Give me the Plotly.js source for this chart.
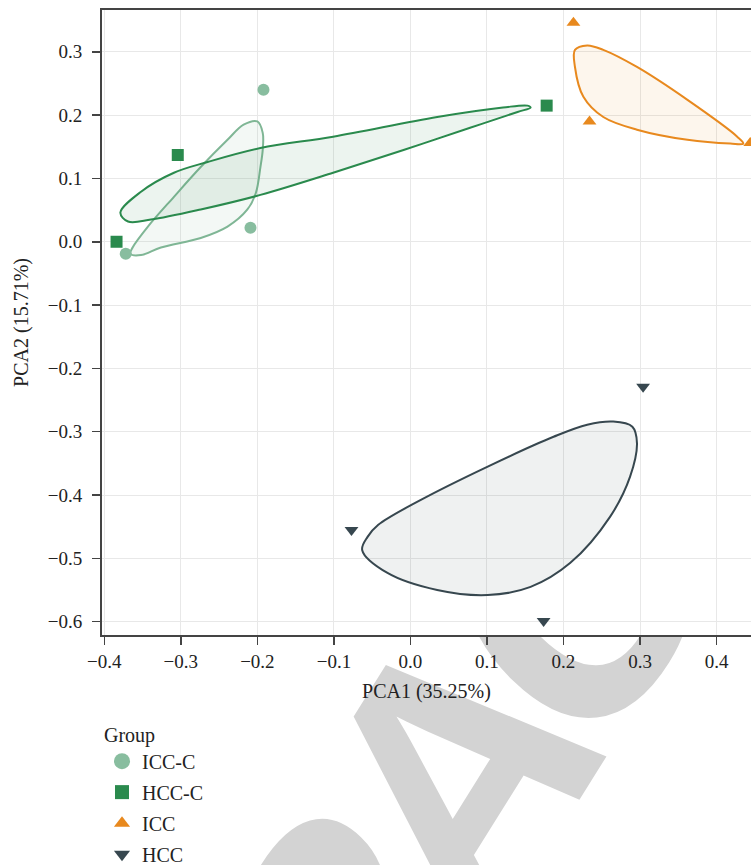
<!DOCTYPE html>
<html>
<head>
<meta charset="utf-8">
<script src="https://cdn.plot.ly/plotly-3.0.1.min.js"></script>
<style>
  html, body { margin: 0; padding: 0; background: #ffffff; }
  #wrap { position: relative; width: 751px; height: 865px; overflow: hidden; }
  #wm { position: absolute; left: 0; top: 0; z-index: 0; }
  #chart { position: absolute; left: 0; top: 0; width: 751px; height: 865px; z-index: 1; }
</style>
</head>
<body>
<div id="wrap">
  <svg id="wm" width="751" height="865" xmlns="http://www.w3.org/2000/svg">
    <text x="-17" y="0" text-anchor="middle" letter-spacing="-34" transform="translate(543 858) rotate(-46) skewY(-12)"
          font-family="Liberation Sans, Arial, sans-serif" font-weight="bold" font-size="350" fill="#d3d3d3">RETRACTED</text>
  </svg>
  <div id="chart"></div>
</div>
<script>
// ---- group labels ----
const groups = ["ICC-C", "HCC-C", "ICC", "HCC"];

// ---- sample scores (PCA1, PCA2) ----
const iccc_x = [-0.192, -0.209, -0.372];
const iccc_y = [0.240, 0.022, -0.019];
const hccc_x = [-0.384, -0.304, 0.178];
const hccc_y = [0.000, 0.137, 0.215];
const icc_x = [0.213, 0.234, 0.444];
const icc_y = [0.346, 0.190, 0.156];
const hcc_x = [0.304, -0.077, 0.174];
const hcc_y = [-0.229, -0.455, -0.599];

// ---- smoothed group outlines ----
const iccc_hull_x = [-0.200, -0.193, -0.193, -0.196, -0.202, -0.213, -0.239, -0.274, -0.326, -0.352, -0.366, -0.363, -0.343, -0.309, -0.274, -0.239, -0.218];
const iccc_hull_y = [0.190, 0.172, 0.145, 0.118, 0.077, 0.051, 0.024, 0.006, -0.009, -0.021, -0.019, -0.009, 0.024, 0.071, 0.118, 0.161, 0.185];
const hccc_hull_x = [-0.379, -0.352, -0.309, -0.265, -0.196, -0.101, 0.035, 0.121, 0.153, 0.157, 0.140, 0.078, -0.009, -0.101, -0.196, -0.274, -0.339, -0.369];
const hccc_hull_y = [0.046, 0.079, 0.109, 0.126, 0.148, 0.166, 0.197, 0.212, 0.215, 0.212, 0.205, 0.180, 0.145, 0.109, 0.074, 0.051, 0.035, 0.032];
const icc_hull_x = [0.215, 0.231, 0.252, 0.296, 0.362, 0.427, 0.435, 0.418, 0.362, 0.296, 0.252, 0.226, 0.215];
const icc_hull_y = [0.303, 0.310, 0.303, 0.276, 0.224, 0.166, 0.155, 0.155, 0.161, 0.177, 0.197, 0.229, 0.276];
const hcc_hull_x = [0.265, 0.290, 0.296, 0.287, 0.261, 0.209, 0.157, 0.101, 0.035, -0.030, -0.063, -0.056, -0.042, 0.013, 0.101, 0.187, 0.231];
const hcc_hull_y = [-0.284, -0.292, -0.318, -0.371, -0.434, -0.507, -0.545, -0.558, -0.550, -0.523, -0.487, -0.466, -0.447, -0.408, -0.355, -0.308, -0.289];

// ---- x/y tick values ----
const xTicks = [-0.4, -0.3, -0.2, -0.1, 0.0, 0.1, 0.2, 0.3, 0.4];
const yTicks = [-0.6, -0.5, -0.4, -0.3, -0.2, -0.1, 0.0, 0.1, 0.2, 0.3];

const colors = ["#88bd9f", "#2a8a4d", "#e8891e", "#37474f"];
const lineColors = ["#7fb695", "#2a8a4d", "#e8891e", "#37474f"];
const fills = ["rgba(136,189,159,0.10)", "rgba(42,138,77,0.09)", "rgba(232,137,30,0.08)", "rgba(55,71,79,0.08)"];
const symbols = ["circle", "square", "triangle-up", "triangle-down"];
const legendSizes = [16, 14, 14, 14];

const pts = [[iccc_x, iccc_y], [hccc_x, hccc_y], [icc_x, icc_y], [hcc_x, hcc_y]];
const hulls = [[iccc_hull_x, iccc_hull_y], [hccc_hull_x, hccc_hull_y], [icc_hull_x, icc_hull_y], [hcc_hull_x, hcc_hull_y]];

const close = a => a.concat([a[0]]);
const traces = [];
hulls.forEach((h, i) => {
  traces.push({
    type: "scatter", mode: "lines",
    x: close(h[0]), y: close(h[1]),
    line: { color: lineColors[i], width: 2, shape: "spline", smoothing: 1 },
    fill: "toself", fillcolor: fills[i],
    showlegend: false, hoverinfo: "skip"
  });
});
pts.forEach((p, i) => {
  traces.push({
    type: "scatter", mode: "markers",
    name: groups[i], legendgroup: groups[i], showlegend: false,
    x: p[0], y: p[1],
    marker: { color: colors[i], symbol: symbols[i], size: 12, line: { width: 0 } }
  });
  // legend entry (same group, larger key symbol as in the original legend)
  traces.push({
    type: "scatter", mode: "markers",
    name: groups[i], legendgroup: groups[i], showlegend: true,
    x: [null], y: [null],
    marker: { color: colors[i], symbol: symbols[i], size: legendSizes[i], line: { width: 0 } }
  });
});

const font = "Liberation Serif, Times New Roman, serif";
const layout = {
  width: 751, height: 865,
  margin: { l: 102, r: 0, t: 10, b: 230, autoexpand: false },
  paper_bgcolor: "rgba(0,0,0,0)",
  plot_bgcolor: "#ffffff",
  font: { family: font, size: 19, color: "#222222" },
  xaxis: {
    range: [-0.403, 0.445],
    tickvals: xTicks, tickformat: ".1f",
    ticks: "outside", ticklen: 8, tickcolor: "#444", tickwidth: 1.5,
    ticklabelstandoff: 0,
    showline: true, linecolor: "#444", linewidth: 2, mirror: true,
    showgrid: true, gridcolor: "#e8e8e8", gridwidth: 1,
    zeroline: false, automargin: false,
    tickfont: { family: font, size: 19, color: "#222" },
    title: { text: "PCA1 (35.25%)", font: { family: font, size: 20, color: "#222" }, standoff: 13 }
  },
  yaxis: {
    range: [-0.621, 0.366],
    tickvals: yTicks, tickformat: ".1f",
    ticks: "outside", ticklen: 8, tickcolor: "#444", tickwidth: 1.5,
    ticklabelstandoff: 6,
    showline: true, linecolor: "#444", linewidth: 2, mirror: false,
    showgrid: true, gridcolor: "#e8e8e8", gridwidth: 1,
    zeroline: false, automargin: false,
    tickfont: { family: font, size: 19, color: "#222" },
    title: { text: "PCA2 (15.71%)", font: { family: font, size: 20, color: "#222" }, standoff: 14 }
  },
  showlegend: true,
  legend: {
    x: 0, xanchor: "left", y: -0.129, yanchor: "top",
    bgcolor: "rgba(0,0,0,0)",
    traceorder: "grouped", tracegroupgap: 2,
    font: { family: font, size: 20, color: "#222" },
    title: { text: "Group", side: "top", font: { family: font, size: 20, color: "#222" } }
  }
};

Plotly.newPlot("chart", traces, layout, { displayModeBar: false, staticPlot: true });
</script>
</body>
</html>
